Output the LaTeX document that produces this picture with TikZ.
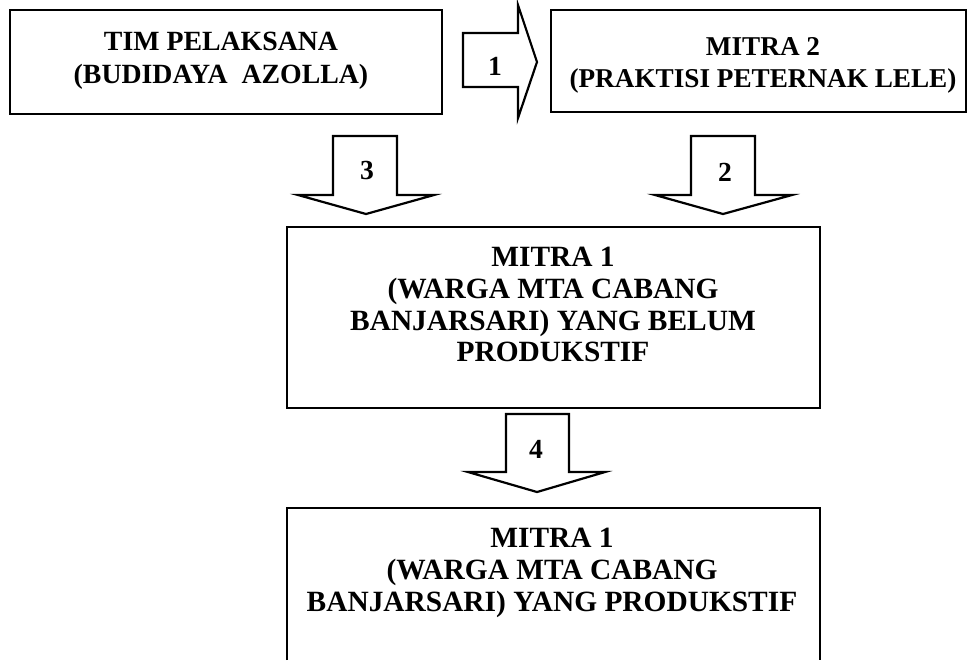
\documentclass[tikz,border=0pt]{standalone}
\usepackage{fontspec}
\setmainfont{Liberation Serif}

\tikzset{
  kotak/.style={line width=1.1pt},
  panah/.style={line width=1.1pt, line join=miter},
  teks/.style={font=\fontsize{14.7}{15.8}\selectfont\bfseries, align=center, inner sep=0pt, anchor=north},
  nomor/.style={font=\fontsize{13.8}{15.75}\selectfont\bfseries, inner sep=0pt}
}

\begin{document}
\begin{tikzpicture} [x=0.5pt,y=-0.5pt]

\useasboundingbox (0,0) rectangle (968,660);

% kotak tim pelaksana
\draw [kotak] (10,10) rectangle (442,114);
\node [teks, font=\fontsize{13.9}{16.5}\selectfont\bfseries] (tim) at (221,32) {TIM PELAKSANA\\(BUDIDAYA\ \ AZOLLA)};

% panah 1 ke kanan
\draw [panah] (463,33) -- (518,33) -- (518,5) -- (537,62) -- (518,118) -- (518,87) -- (463,87) -- cycle;
\node [nomor] (satu) at (495,66) {1};

% kotak mitra 2
\draw [kotak] (551,10) rectangle (966,112);
\node [teks, font=\fontsize{13.6}{15.8}\selectfont\bfseries] (mitradua) at (763,37) {MITRA 2\\(PRAKTISI PETERNAK LELE)};

% panah 3 ke bawah
\draw [panah] (333,136) -- (397,136) -- (397,195) -- (434,195) -- (366,214) -- (298,195) -- (333,195) -- cycle;
\node [nomor] (tiga) at (367,170) {3};

% panah 2 ke bawah
\draw [panah] (691,136) -- (755,136) -- (755,195) -- (792,195) -- (723,214) -- (655,195) -- (691,195) -- cycle;
\node [nomor] (dua) at (725,172) {2};

% kotak mitra 1 (belum produktif)
\draw [kotak] (287,227) rectangle (820,408);
\node [teks] (mitrasatu) at (553,247) {MITRA 1\\(WARGA MTA CABANG\\BANJARSARI) YANG BELUM\\PRODUKSTIF};

% panah 4 ke bawah
\draw [panah] (506,414) -- (569,414) -- (569,472) -- (605,472) -- (537,492) -- (468,472) -- (506,472) -- cycle;
\node [nomor] (empat) at (536,449) {4};

% kotak mitra 1 (produktif), bawahnya terpotong
\draw [kotak] (287,660) -- (287,508) -- (820,508) -- (820,660);
\node [teks] (produktif) at (552,528) {MITRA 1\\(WARGA MTA CABANG\\BANJARSARI) YANG PRODUKSTIF};

\end{tikzpicture}
\end{document}
